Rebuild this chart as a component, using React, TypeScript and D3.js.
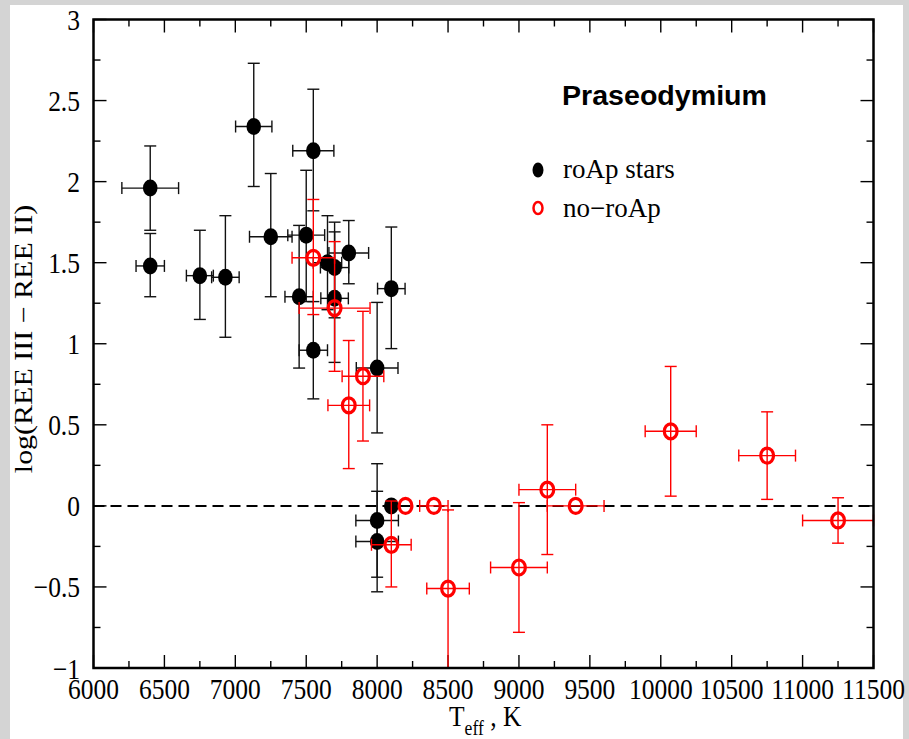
import React from "react";
import * as d3 from "d3";

// ---- data ----
// roAp stars: temperature, value, temperature error, lower / upper value bound
const roApT = [6400, 6400, 6750, 6930, 7130, 7250, 7450, 7500, 7550, 7550, 7650, 7700, 7700, 7800, 8000, 8100, 8000, 8000, 8100];
const roApV = [1.96, 1.48, 1.42, 1.41, 2.34, 1.66, 1.29, 1.67, 2.19, 0.96, 1.50, 1.47, 1.28, 1.56, 0.85, 1.34, -0.09, -0.22, 0.0];
const roApDT = [200, 100, 95, 97, 128, 150, 100, 130, 145, 100, 100, 100, 97, 140, 147, 97, 150, 150, 0];
const roApLo = [1.70, 1.29, 1.15, 1.04, 1.97, 1.29, 0.85, 1.26, 1.82, 0.66, 1.21, 1.16, 0.885, 1.37, 0.45, 0.97, -0.44, -0.53, 0.0];
const roApHi = [2.22, 1.68, 1.70, 1.79, 2.73, 2.05, 1.73, 2.07, 2.57, 1.26, 1.79, 1.75, 1.69, 1.76, 1.255, 1.72, 0.26, 0.09, 0.0];

// no-roAp stars
const noT = [7550, 7700, 7900, 7800, 8200, 8400, 8100, 8500, 9000, 9200, 9400, 10070, 10750, 11250];
const noV = [1.53, 1.22, 0.80, 0.62, 0.0, 0.0, -0.24, -0.51, -0.38, 0.10, 0.0, 0.46, 0.31, -0.09];
const noDT = [150, 250, 147, 147, 0, 100, 140, 150, 200, 200, 200, 180, 200, 250];
const noLo = [1.18, 0.83, 0.40, 0.23, 0.0, 0.0, -0.50, -1.0, -0.78, -0.30, 0.0, 0.06, 0.04, -0.23];
const noHi = [1.89, 1.63, 1.20, 1.02, 0.0, 0.0, 0.03, -0.025, 0.02, 0.50, 0.0, 0.86, 0.58, 0.05];

const xTickValues = [6000, 6500, 7000, 7500, 8000, 8500, 9000, 9500, 10000, 10500, 11000, 11500];
const yTickValues = [-1, -0.5, 0, 0.5, 1, 1.5, 2, 2.5, 3];
const yTickLabels = ["\u22121", "\u22120.5", "0", "0.5", "1", "1.5", "2", "2.5", "3"];

const title = "Praseodymium";
const legendLabels = ["roAp stars", "no\u2212roAp"];

const W = 909;
const H = 739;
const left = 93.5, right = 873.5, top = 19.5, bottom = 668;

const x = d3.scaleLinear().domain([6000, 11500]).range([left, right]);
const y = d3.scaleLinear().domain([-1, 3]).range([bottom, top]);

const serif = "'Liberation Serif', 'DejaVu Serif', serif";
const sans = "'Liberation Sans', Arial, sans-serif";

function ErrorBars({ T, V, DT, Lo, Hi, color }: any) {
  const cap = 6;
  return (
    <g stroke={color} strokeWidth={1.4} fill="none">
      {T.map((t: number, i: number) => {
        const cx = x(t), cy = y(V[i]);
        const parts: any[] = [];
        if (DT[i] > 0) {
          const x0 = Math.max(x(t - DT[i]), left), x1 = Math.min(x(t + DT[i]), right);
          parts.push(<line key="h" x1={x0} x2={x1} y1={cy} y2={cy} />);
          if (x(t - DT[i]) >= left) parts.push(<line key="hl" x1={x0} x2={x0} y1={cy - cap} y2={cy + cap} />);
          if (x(t + DT[i]) <= right) parts.push(<line key="hr" x1={x1} x2={x1} y1={cy - cap} y2={cy + cap} />);
        }
        if (Hi[i] - Lo[i] > 0) {
          const y0 = y(Lo[i]), y1 = y(Hi[i]);
          parts.push(<line key="v" x1={cx} x2={cx} y1={y0} y2={y1} />);
          parts.push(<line key="vl" x1={cx - cap} x2={cx + cap} y1={y0} y2={y0} />);
          parts.push(<line key="vh" x1={cx - cap} x2={cx + cap} y1={y1} y2={y1} />);
        }
        return <g key={i}>{parts}</g>;
      })}
    </g>
  );
}

export default function App() {
  const xMinor = d3.range(6000, 11501, 250);
  const yMinor = d3.range(-1, 3.001, 0.25);
  const isMajorX = (v: number) => v % 500 === 0;
  const isMajorY = (v: number) => Math.abs(v * 2 - Math.round(v * 2)) < 1e-6;
  const majLen = 13, minLen = 7;

  return (
    <svg width={W} height={H} style={{ position: "absolute", left: 0, top: 0 }}>
      <rect x={0} y={0} width={W} height={H} fill="#d4d4d4" />
      <rect x={10} y={5} width={893} height={H - 5} fill="#ffffff" />

      {/* zero line */}
      <line x1={left} x2={right} y1={y(0)} y2={y(0)} stroke="#000" strokeWidth={2} strokeDasharray="11,6" />

      {/* ticks */}
      <g stroke="#000" strokeWidth={1.4}>
        {xMinor.map((v) => {
          const L = isMajorX(v) ? majLen : minLen;
          return (
            <g key={"xt" + v}>
              <line x1={x(v)} x2={x(v)} y1={bottom} y2={bottom - L} />
              <line x1={x(v)} x2={x(v)} y1={top} y2={top + L} />
            </g>
          );
        })}
        {yMinor.map((v) => {
          const L = isMajorY(v) ? majLen : minLen;
          return (
            <g key={"yt" + v}>
              <line x1={left} x2={left + L} y1={y(v)} y2={y(v)} />
              <line x1={right} x2={right - L} y1={y(v)} y2={y(v)} />
            </g>
          );
        })}
      </g>

      {/* roAp set */}
      <ErrorBars T={roApT} V={roApV} DT={roApDT} Lo={roApLo} Hi={roApHi} color="#111" />
      <g fill="#000">
        {roApT.map((t, i) => (
          <ellipse key={i} cx={x(t)} cy={y(roApV[i])} rx={7.3} ry={8.5} />
        ))}
      </g>

      {/* no-roAp set */}
      <ErrorBars T={noT} V={noV} DT={noDT} Lo={noLo} Hi={noHi} color="#ff0000" />
      <g fill="none" stroke="#ff0000" strokeWidth={3.2}>
        {noT.map((t, i) => (
          <ellipse key={i} cx={x(t)} cy={y(noV[i])} rx={6.4} ry={7.5} />
        ))}
      </g>

      {/* frame */}
      <rect x={left} y={top} width={right - left} height={bottom - top} fill="none" stroke="#000" strokeWidth={2.5} />

      {/* tick labels */}
      <g fontFamily={serif} fontSize={30} fill="#000">
        {xTickValues.map((v) => (
          <text key={"xl" + v} textAnchor="middle" transform={`translate(${x(v)},699) scale(0.85,1)`}>
            {String(v)}
          </text>
        ))}
        {yTickValues.map((v, i) => (
          <text key={"yl" + v} textAnchor="end" transform={`translate(80,${y(v) + 10.5}) scale(0.85,1)`}>
            {yTickLabels[i]}
          </text>
        ))}
      </g>

      {/* axis titles */}
      <text fontFamily={serif} fontSize={30} textAnchor="middle" transform="translate(32,339) rotate(-90) scale(1,0.85)">
        log(REE III {"\u2212"} REE II)
      </text>
      <text fontFamily={serif} fontSize={29} transform="translate(449,726) scale(0.88,1)">
        T
        <tspan fontSize={20} dy={9}>eff</tspan>
        <tspan dy={-9}> , K</tspan>
      </text>

      {/* legend */}
      <text x={562} y={105} fontFamily={sans} fontWeight="bold" fontSize={27} textLength={205} lengthAdjust="spacingAndGlyphs">
        {title}
      </text>
      <ellipse cx={538} cy={170} rx={5.5} ry={7.5} fill="#000" />
      <ellipse cx={538} cy={208} rx={4.5} ry={6} fill="none" stroke="#ff0000" strokeWidth={2.5} />
      <text x={563} y={178} fontFamily={serif} fontSize={27}>{legendLabels[0]}</text>
      <text x={563} y={217} fontFamily={serif} fontSize={27}>{legendLabels[1]}</text>
    </svg>
  );
}
